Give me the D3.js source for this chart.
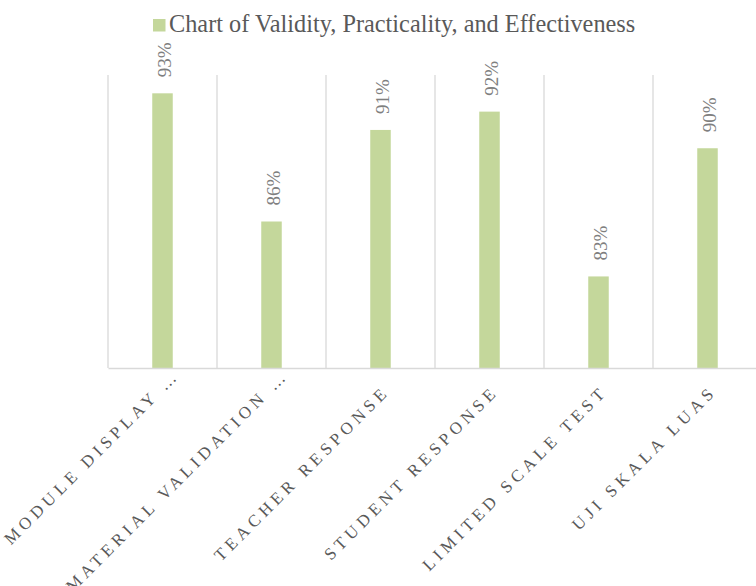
<!DOCTYPE html>
<html>
<head>
<meta charset="utf-8">
<script src="https://cdn.jsdelivr.net/npm/d3@7"></script>
<style>
  body { margin: 0; background: #fff; }
  svg { display: block; }
  text { font-family: "Liberation Serif", Tinos, "Times New Roman", "DejaVu Serif", serif; }
</style>
</head>
<body>
<script>
var svgWidth = 756;
var svgHeight = 586;

// chart data
var categories = ["MODULE DISPLAY \u2026", "MATERIAL VALIDATION \u2026", "TEACHER RESPONSE",
  "STUDENT RESPONSE", "LIMITED SCALE TEST", "UJI SKALA LUAS"];
var values = [0.93, 0.86, 0.91, 0.92, 0.83, 0.90];
var seriesName = "Chart of Validity, Practicality, and Effectiveness";
var yDomain = [0.78, 0.94];

var margin = { top: 75, right: -6, bottom: 218, left: 108 };
var width = svgWidth - margin.left - margin.right;
var height = svgHeight - margin.top - margin.bottom;

var svg = d3.select("body")
  .append("svg")
  .attr("width", svgWidth)
  .attr("height", svgHeight);

var chartGroup = svg.append("g")
  .attr("transform", `translate(${margin.left}, ${margin.top})`);

var xScale = d3.scaleBand().domain(categories).range([0, width]);
var yScale = d3.scaleLinear().domain(yDomain).range([height, 0]);

// vertical gridlines between categories
var bounds = categories.map(function(d) { return xScale(d); }).concat([width]);
chartGroup.selectAll(".grid")
  .data(bounds)
  .enter().append("line")
  .attr("x1", function(d) { return d; })
  .attr("x2", function(d) { return d; })
  .attr("y1", 0)
  .attr("y2", height)
  .attr("stroke", "#d9d9d9")
  .attr("stroke-width", 1.3);

// bars
var barWidth = 20.5;
chartGroup.selectAll(".bar")
  .data(values)
  .enter().append("rect")
  .attr("x", function(d, i) { return xScale(categories[i]) + xScale.bandwidth() / 2 - barWidth / 2; })
  .attr("y", function(d) { return yScale(d); })
  .attr("width", barWidth)
  .attr("height", function(d) { return height - yScale(d); })
  .attr("fill", "#c4d79b");

// data labels, rotated
chartGroup.selectAll(".dlabel")
  .data(values)
  .enter().append("text")
  .attr("transform", function(d, i) {
    var x = xScale(categories[i]) + xScale.bandwidth() / 2 + 8;
    var y = yScale(d) - 16;
    return `translate(${x}, ${y}) rotate(-90)`;
  })
  .attr("text-anchor", "start")
  .style("font-size", "19px")
  .attr("fill", "#7f7f7f")
  .text(function(d) { return d3.format(".0%")(d); });

// x axis
var bottomAxis = d3.axisBottom(xScale).tickSize(0).tickPadding(0);
var xAxis = chartGroup.append("g")
  .attr("transform", `translate(0, ${height})`)
  .call(bottomAxis);
xAxis.select(".domain").attr("stroke", "#d9d9d9").attr("stroke-width", 1.5);
xAxis.selectAll("text")
  .attr("y", 0)
  .attr("dy", 0)
  .attr("text-anchor", "end")
  .attr("transform", function(d) {
    // truncated labels end a little higher up
    var cut = d.slice(-1) === "\u2026";
    return `translate(${cut ? 18 : 10}, ${cut ? 8 : 24.5}) rotate(-45)`;
  })
  .style("font-size", "17px")
  .style("letter-spacing", "4.5px")
  .attr("fill", "#595959");

// legend
var legend = svg.append("g").attr("transform", "translate(153, 19)");
legend.append("rect")
  .attr("width", 12.5)
  .attr("height", 12.5)
  .attr("fill", "#c4d79b");
legend.append("text")
  .attr("x", 16)
  .attr("y", 13)
  .style("font-size", "24.3px")
  .attr("fill", "#595959")
  .text(seriesName);
</script>
</body>
</html>
